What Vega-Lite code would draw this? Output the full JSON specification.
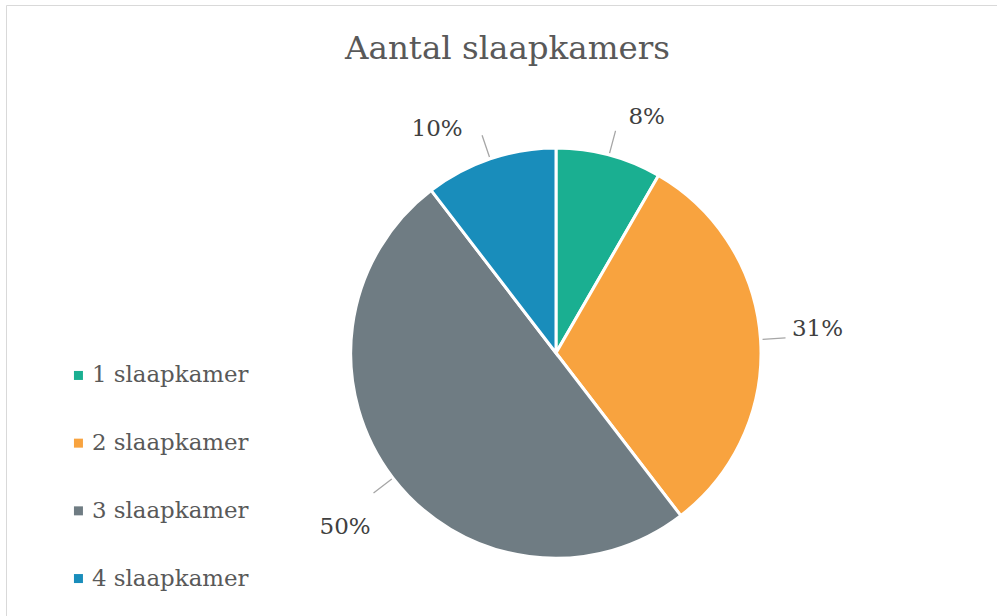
{
  "$schema": "https://vega.github.io/schema/vega-lite/v6.json",
  "width": 1100,
  "height": 696,
  "autosize": {"type": "none"},
  "padding": {"left": 6, "top": 5, "right": -109, "bottom": -85},
  "background": "white",
  "config": {
    "view": {"stroke": "#d9d9d9", "strokeWidth": 1},
    "font": "DejaVu Serif"
  },
  "title": {
    "text": "Aantal slaapkamers",
    "font": "DejaVu Serif",
    "fontSize": 32.5,
    "fontWeight": "normal",
    "color": "#595959",
    "anchor": "middle",
    "frame": "group",
    "baseline": "alphabetic",
    "offset": -89,
    "dx": -48.5
  },
  "data": {
    "values": [
      {"k": "1 slaapkamer", "n": 4, "pct": "8%"},
      {"k": "2 slaapkamer", "n": 15, "pct": "31%"},
      {"k": "3 slaapkamer", "n": 24, "pct": "50%"},
      {"k": "4 slaapkamer", "n": 5, "pct": "10%"}
    ]
  },
  "transform": [
    {"stack": "n", "groupby": [], "sort": [{"field": "k"}], "as": ["s0", "s1"]},
    {"calculate": "(datum.s0 + datum.s1) / 2", "as": "mid"}
  ],
  "layer": [
    {
      "mark": {"type": "point", "opacity": 0},
      "encoding": {
        "x": {"field": "n", "type": "quantitative", "axis": null},
        "y": {"field": "n", "type": "quantitative", "axis": null}
      }
    },
    {
      "mark": {"type": "arc", "outerRadius": 205, "stroke": "white", "strokeWidth": 3},
      "encoding": {
        "theta": {"field": "n", "type": "quantitative", "stack": true},
        "color": {
          "field": "k",
          "type": "nominal",
          "scale": {"range": ["#1aaf91", "#f8a33f", "#6f7c83", "#198dbb"]},
          "legend": {
            "title": null,
            "orient": "none",
            "legendX": 61,
            "legendY": 359,
            "symbolType": "square",
            "symbolSize": 81,
            "symbolStrokeWidth": 0,
            "labelFont": "DejaVu Serif",
            "labelFontSize": 22.9,
            "labelColor": "#595959",
            "labelOffset": 2,
            "rowPadding": 43.7,
            "padding": 0,
            "labelLimit": 400
          }
        }
      }
    },
    {
      "mark": {"type": "arc", "radius": 230, "radius2": 207, "fill": null, "stroke": "#a6a6a6", "strokeWidth": 1.3},
      "encoding": {
        "theta": {"field": "mid", "type": "quantitative", "stack": null},
        "theta2": {"field": "mid"}
      }
    },
    {
      "transform": [{"filter": "datum.k === '1 slaapkamer'"}],
      "mark": {"type": "text", "radius": 250, "dx": 26, "dy": 5, "fontSize": 23, "color": "#404040", "font": "DejaVu Serif"},
      "encoding": {
        "theta": {"field": "mid", "type": "quantitative", "stack": null},
        "text": {"field": "pct"}
      }
    },
    {
      "transform": [{"filter": "datum.k === '2 slaapkamer'"}],
      "mark": {"type": "text", "radius": 250, "dx": 12, "dy": -8, "fontSize": 23, "color": "#404040", "font": "DejaVu Serif"},
      "encoding": {
        "theta": {"field": "mid", "type": "quantitative", "stack": null},
        "text": {"field": "pct"}
      }
    },
    {
      "transform": [{"filter": "datum.k === '3 slaapkamer'"}],
      "mark": {"type": "text", "radius": 250, "dx": -12.5, "dy": 22, "fontSize": 23, "color": "#404040", "font": "DejaVu Serif"},
      "encoding": {
        "theta": {"field": "mid", "type": "quantitative", "stack": null},
        "text": {"field": "pct"}
      }
    },
    {
      "transform": [{"filter": "datum.k === '4 slaapkamer'"}],
      "mark": {"type": "text", "radius": 250, "dx": -38.5, "dy": 12.5, "fontSize": 23, "color": "#404040", "font": "DejaVu Serif"},
      "encoding": {
        "theta": {"field": "mid", "type": "quantitative", "stack": null},
        "text": {"field": "pct"}
      }
    }
  ]
}
